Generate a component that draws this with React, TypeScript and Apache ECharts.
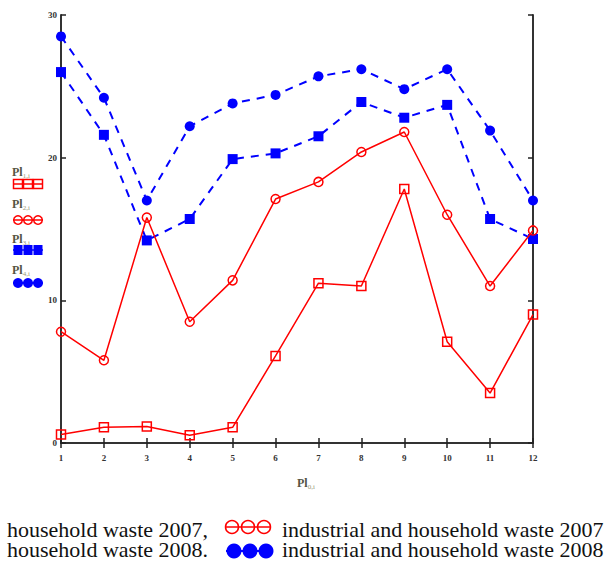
import React, { useEffect, useRef } from "react";
import * as echarts from "echarts";

const months = [1, 2, 3, 4, 5, 6, 7, 8, 9, 10, 11, 12];
const household2007 = [0.6, 1.1, 1.15, 0.55, 1.1, 6.1, 11.2, 11.0, 17.8, 7.1, 3.5, 9.0];
const industrial2007 = [7.8, 5.8, 15.8, 8.5, 11.4, 17.1, 18.3, 20.4, 21.8, 16.0, 11.0, 14.9];
const household2008 = [26.0, 21.6, 14.2, 15.7, 19.9, 20.3, 21.5, 23.9, 22.8, 23.7, 15.7, 14.3];
const industrial2008 = [28.5, 24.2, 17.0, 22.2, 23.8, 24.4, 25.7, 26.2, 24.8, 26.2, 21.9, 17.0];
const yTicks = [0, 10, 20, 30];
const traceLabels = ["1,i", "2,i", "3,i", "4,i"];
const captionLeft = ["household waste 2007,", "household waste 2008."];
const captionRight = ["industrial and household waste 2007", "industrial and household waste 2008"];

const RED = "#ff0000";
const BLUE = "#0000ff";
const SERIF = "'Liberation Serif', 'DejaVu Serif', serif";

function pairs(v: number[]) {
  return v.map((y, i) => [months[i], y]);
}

function markerRow(kind: string, x: number, y: number): any[] {
  const els: any[] = [];
  const color = kind.startsWith("red") ? RED : BLUE;
  els.push({ type: "line", shape: { x1: x, y1: y, x2: x + 30, y2: y }, style: { stroke: color, lineWidth: 1.5 }, z: 10 });
  for (let k = 0; k < 3; k++) {
    const cx = x + 5 + k * 10;
    if (kind === "redSquare") {
      els.push({ type: "rect", shape: { x: cx - 4.5, y: y - 4.5, width: 9, height: 9 }, style: { fill: "none", stroke: color, lineWidth: 1.5 }, z: 10 });
    } else if (kind === "redCircle") {
      els.push({ type: "circle", shape: { cx, cy: y, r: 4.3 }, style: { fill: "none", stroke: color, lineWidth: 1.5 }, z: 10 });
    } else if (kind === "blueSquare") {
      els.push({ type: "rect", shape: { x: cx - 4.5, y: y - 5, width: 9, height: 10 }, style: { fill: color }, z: 10 });
    } else {
      els.push({ type: "circle", shape: { cx, cy: y, r: 5 }, style: { fill: color }, z: 10 });
    }
  }
  return els;
}

export default function App() {
  const ref = useRef<HTMLDivElement>(null);
  useEffect(() => {
    if (!ref.current) return;
    const chart = echarts.init(ref.current, null, { renderer: "svg" });
    const axisLine = { show: true, lineStyle: { color: "#333", width: 2 } };
    const tickStyle = { show: true, inside: true, length: 5, lineStyle: { color: "#222", width: 1.5 } };
    const labelFont = { fontFamily: SERIF, fontSize: 9, color: "#333", fontWeight: "bold" as const };
    const subRich = {
      a: { fontFamily: SERIF, fontSize: 12, fill: "#554", fontWeight: "bold" },
      b: { fontFamily: SERIF, fontSize: 7, fill: "#997", padding: [7, 0, 0, 0] },
    };

    const rowKinds = ["redSquare", "redCircle", "blueSquare", "blueCircle"];
    const labelYs = [172, 204, 239, 270];
    const markerYs = [184, 220, 250, 283];
    const graphics: any[] = [];
    traceLabels.forEach((t, i) => {
      graphics.push({
        type: "text",
        x: 12,
        y: labelYs[i],
        style: { text: "{a|Pl}{b|" + t + "}", verticalAlign: "middle", rich: subRich },
      });
      graphics.push(...markerRow(rowKinds[i], 13, markerYs[i]));
    });
    graphics.push({
      type: "text",
      x: 297,
      y: 483,
      style: { text: "{a|Pl}{b|0,i}", verticalAlign: "middle", rich: subRich },
    });
    const capFont = { fontFamily: SERIF, fontSize: 22, fill: "#111", verticalAlign: "top", lineHeight: 20 };
    graphics.push({ type: "text", x: 7, y: 519, style: { ...capFont, text: captionLeft.join("\n") } });
    graphics.push({ type: "text", x: 282, y: 519, style: { ...capFont, text: captionRight.join("\n") } });
    // caption markers
    for (let k = 0; k < 3; k++) {
      graphics.push({ type: "circle", shape: { cx: 232 + k * 16, cy: 527, r: 6.5 }, style: { fill: "none", stroke: RED, lineWidth: 1.5 } });
      graphics.push({ type: "circle", shape: { cx: 234 + k * 16, cy: 551, r: 7.5 }, style: { fill: BLUE } });
    }
    graphics.push({ type: "line", shape: { x1: 225, y1: 527, x2: 271, y2: 527 }, style: { stroke: RED, lineWidth: 1.5 } });
    graphics.push({ type: "line", shape: { x1: 226, y1: 551, x2: 273, y2: 551 }, style: { stroke: BLUE, lineWidth: 2 } });

    chart.setOption({
      animation: false,
      backgroundColor: "#fff",
      grid: { left: 61, right: 78, top: 15, bottom: 120 },
      xAxis: [
        {
          type: "value",
          min: 1,
          max: 12,
          interval: 1,
          axisLine,
          axisTick: tickStyle,
          splitLine: { show: false },
          axisLabel: { ...labelFont, margin: 10 },
        },
        {
          type: "value",
          position: "top",
          min: 1,
          max: 12,
          interval: 1,
          axisLine,
          axisTick: tickStyle,
          splitLine: { show: false },
          axisLabel: { show: false },
        },
      ],
      yAxis: [
        {
          type: "value",
          min: yTicks[0],
          max: yTicks[yTicks.length - 1],
          interval: 10,
          axisLine,
          axisTick: tickStyle,
          splitLine: { show: false },
          axisLabel: { ...labelFont, margin: 4 },
        },
        {
          type: "value",
          position: "right",
          min: 0,
          max: 30,
          interval: 10,
          axisLine,
          axisTick: tickStyle,
          splitLine: { show: false },
          axisLabel: { show: false },
        },
      ],
      series: [
        {
          name: "household waste 2007",
          type: "line",
          data: pairs(household2007),
          lineStyle: { color: RED, width: 1.5 },
          symbol: "rect",
          symbolSize: 9,
          itemStyle: { color: "rgba(0,0,0,0)", borderColor: RED, borderWidth: 1.5 },
          z: 3,
        },
        {
          name: "industrial and household waste 2007",
          type: "line",
          data: pairs(industrial2007),
          lineStyle: { color: RED, width: 1.5 },
          symbol: "circle",
          symbolSize: 9,
          itemStyle: { color: "rgba(0,0,0,0)", borderColor: RED, borderWidth: 1.5 },
          z: 3,
        },
        {
          name: "household waste 2008",
          type: "line",
          data: pairs(household2008),
          lineStyle: { color: BLUE, width: 2, type: [8, 7] },
          symbol: "rect",
          symbolSize: 10,
          itemStyle: { color: BLUE },
          z: 2,
        },
        {
          name: "industrial and household waste 2008",
          type: "line",
          data: pairs(industrial2008),
          lineStyle: { color: BLUE, width: 2, type: [8, 7] },
          symbol: "circle",
          symbolSize: 10,
          itemStyle: { color: BLUE },
          z: 2,
        },
      ],
      graphic: graphics,
    });
    return () => chart.dispose();
  }, []);
  return <div ref={ref} style={{ position: "fixed", left: 0, top: 0, width: 611, height: 563 }} />;
}
